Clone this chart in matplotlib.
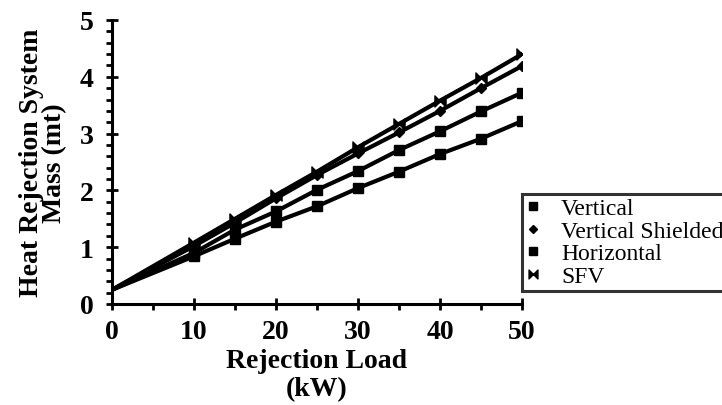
import matplotlib
matplotlib.use("Agg")
import matplotlib.pyplot as plt
from matplotlib.path import Path
from matplotlib.ticker import MultipleLocator

x = [0, 10, 15, 20, 25, 30, 35, 40, 45, 50]
vertical = [0.25, 0.84, 1.15, 1.45, 1.72, 2.04, 2.33, 2.64, 2.91, 3.22]
vertical_shielded = [0.25, 1.02, 1.43, 1.86, 2.27, 2.65, 3.02, 3.40, 3.80, 4.19]
horizontal = [0.25, 0.90, 1.31, 1.63, 2.01, 2.34, 2.71, 3.04, 3.39, 3.72]
sfv = [0.25, 1.08, 1.50, 1.92, 2.33, 2.76, 3.17, 3.58, 3.98, 4.40]
labels = ["Vertical", "Vertical Shielded", "Horizontal", "SFV"]

bowtie = Path([(-1, -1), (0, 0), (-1, 1), (-1, -1), (1, -1), (0, 0), (1, 1), (1, -1)],
              [Path.MOVETO, Path.LINETO, Path.LINETO, Path.CLOSEPOLY,
               Path.MOVETO, Path.LINETO, Path.LINETO, Path.CLOSEPOLY])

plt.rcParams['font.family'] = ['Liberation Serif', 'DejaVu Serif']

fig = plt.figure(figsize=(7.22, 4.06), dpi=100)
ax = fig.add_axes([112/722, 1-305/406, (522-112)/722, (305-21)/406])

lw = 3
me = list(range(1, 10))
ax.plot(x, vertical, color='black', lw=lw, marker='s', ms=6.5, markevery=me, label=labels[0])
ax.plot(x, vertical_shielded, color='black', lw=lw, marker='D', ms=5.5, markevery=me, label=labels[1])
ax.plot(x, horizontal, color='black', lw=lw, marker='s', ms=7.5, markevery=me, label=labels[2])
ax.plot(x, sfv, color='black', lw=lw, marker=bowtie, ms=8, markevery=me, label=labels[3])

ax.set_xlim(0, 50)
ax.set_ylim(0, 5)
ax.xaxis.set_major_locator(MultipleLocator(10))
ax.xaxis.set_minor_locator(MultipleLocator(5))
ax.yaxis.set_major_locator(MultipleLocator(1))
ax.yaxis.set_minor_locator(MultipleLocator(0.2))
for s in ['top', 'right']:
    ax.spines[s].set_visible(False)
for s in ['left', 'bottom']:
    ax.spines[s].set_linewidth(2.2)
ax.tick_params(which='major', direction='inout', length=8, width=2, labelsize=20)
ax.tick_params(axis='x', which='major', pad=7)
ax.tick_params(axis='y', which='major', pad=9)
ax.tick_params(which='minor', direction='out', length=4, width=2)
for t in ax.get_xticklabels() + ax.get_yticklabels():
    t.set_fontweight('bold')

ax.set_xlabel("Rejection Load\n(kW)", fontsize=20, fontweight='bold', linespacing=1.12, labelpad=3)
ax.set_ylabel("Heat Rejection System\nMass (mt)", fontsize=20, fontweight='bold', linespacing=0.92, labelpad=9)

handles, lbls = ax.get_legend_handles_labels()
leg = fig.legend(handles, lbls, loc='upper left', bbox_to_anchor=(522/722, 1-195/406),
                 bbox_transform=fig.transFigure, borderaxespad=0, fontsize=17,
                 handlelength=0.6, handletextpad=0.9, labelspacing=0.05, borderpad=0.15,
                 fancybox=False, frameon=True, edgecolor='black', markerscale=0.8)
leg.get_frame().set_linewidth(2.2)
for h in leg.legend_handles:
    h.set_linestyle('None')

fig.savefig("out.png", dpi=100)
